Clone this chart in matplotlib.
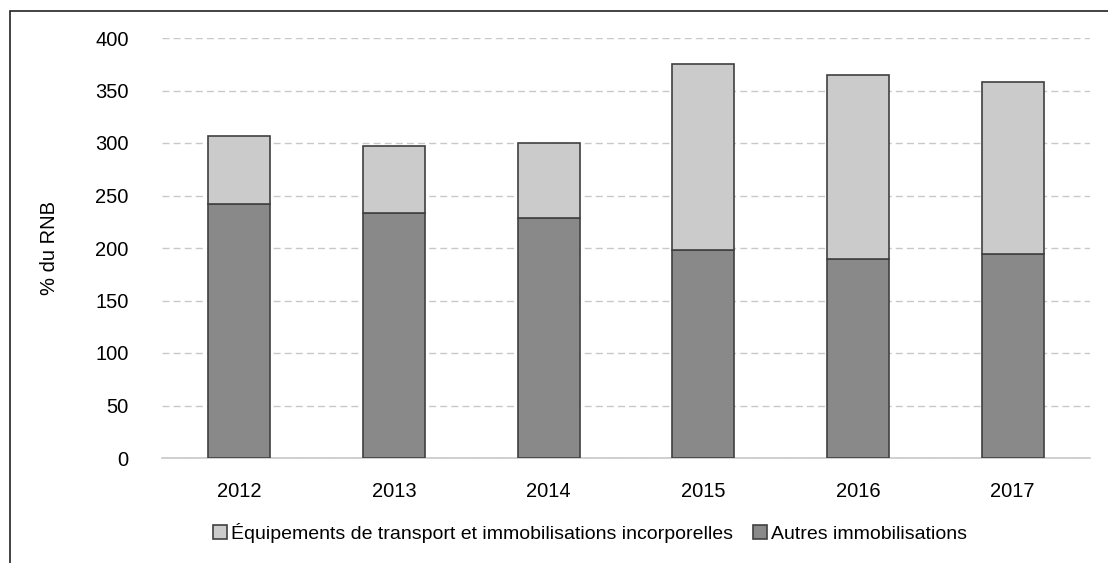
import matplotlib.pyplot as plt
from matplotlib.patches import Rectangle

plt.rcParams["font.family"] = ["Liberation Sans", "DejaVu Sans"]

years = ["2012", "2013", "2014", "2015", "2016", "2017"]
autres = [242, 233, 229, 198, 190, 194]
equipements = [65, 64, 71, 177, 175, 164]

fig = plt.figure(figsize=(11.08, 5.63), dpi=100)
ax = fig.add_axes([162 / 1108, 1 - 458 / 563, (1090 - 162) / 1108, 420 / 563])

x = range(len(years))
ax.bar(x, autres, width=0.4, color="#898989", edgecolor="#404040", linewidth=1.2,
       label="Autres immobilisations", zorder=3)
ax.bar(x, equipements, width=0.4, bottom=autres, color="#CBCBCB", edgecolor="#404040",
       linewidth=1.2, label="Équipements de transport et immobilisations incorporelles", zorder=3)

ax.set_xlim(-0.5, len(years) - 0.5)
ax.set_ylim(0, 400)
ax.set_yticks(range(0, 401, 50))
ax.set_xticks(list(x))
ax.set_xticklabels(years)
ax.tick_params(axis="both", length=0, labelsize=14.5, colors="black")
ax.tick_params(axis="y", pad=24)
ax.tick_params(axis="x", pad=17)
ax.grid(axis="y", linestyle=(0, (5, 3)), color="#C8C8C8", linewidth=1, zorder=0)
for side in ["top", "right", "left"]:
    ax.spines[side].set_visible(False)
ax.spines["bottom"].set_color("#C8C8C8")
ax.spines["bottom"].set_linewidth(1.2)
ax.set_ylabel("% du RNB", fontsize=14.5)
ax.yaxis.set_label_coords(-0.111, 0.5)

handles, labels = ax.get_legend_handles_labels()
fig.legend(handles[::-1], labels[::-1], loc="center", bbox_to_anchor=(590 / 1108, 1 - 533 / 563),
           ncol=2, frameon=False, fontsize=14, handlelength=0.75, handleheight=0.75,
           handletextpad=0.2, columnspacing=1.0)

# outer frame (cut off at right and bottom)
fig.patches.append(Rectangle((10 / 1108, -0.1), 1.2, 1 - 11 / 563 + 0.1, transform=fig.transFigure,
                             fill=False, edgecolor="#222222", linewidth=1.2))

fig.savefig("out.png", dpi=100)
